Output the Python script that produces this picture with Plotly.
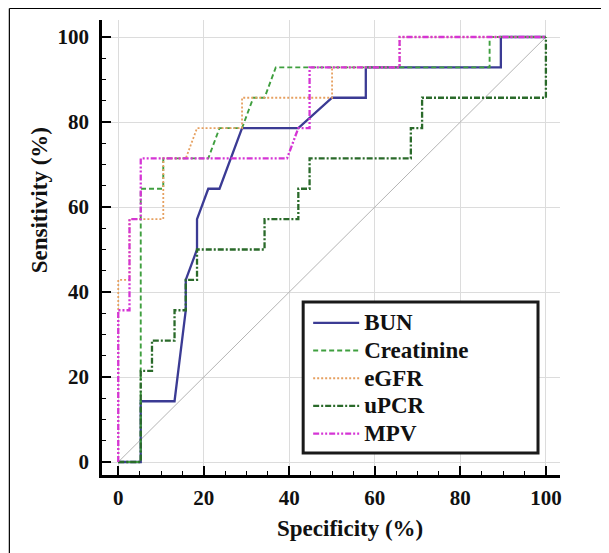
import plotly.graph_objects as go

# ---- data (x = 100 - specificity, y = sensitivity) ----
bun_x = [0, 5.26, 5.26, 13.16, 15.79, 15.79, 18.42, 18.42, 21.05, 23.68, 28.95, 42.11, 50.0, 57.89, 57.89, 89.47, 89.47, 100]
bun_y = [0, 0, 14.29, 14.29, 35.71, 42.86, 50.0, 57.14, 64.29, 64.29, 78.57, 78.57, 85.71, 85.71, 92.86, 92.86, 100, 100]

creat_x = [0, 5.26, 5.26, 10.53, 10.53, 21.05, 23.68, 28.95, 31.58, 34.21, 36.84, 86.84, 86.84, 100]
creat_y = [0, 0, 64.29, 64.29, 71.43, 71.43, 78.57, 78.57, 85.71, 85.71, 92.86, 92.86, 100, 100]

egfr_x = [0, 0, 2.63, 2.63, 10.53, 10.53, 15.79, 18.42, 28.95, 28.95, 50.0, 50.0, 65.79, 65.79, 100]
egfr_y = [0, 42.86, 42.86, 57.14, 57.14, 71.43, 71.43, 78.57, 78.57, 85.71, 85.71, 92.86, 92.86, 100, 100]

upcr_x = [0, 5.26, 5.26, 7.89, 7.89, 13.16, 13.16, 15.79, 15.79, 18.42, 18.42, 34.21, 34.21, 42.11, 42.11, 44.74, 44.74, 68.42, 68.42, 71.05, 71.05, 100, 100]
upcr_y = [0, 0, 21.43, 21.43, 28.57, 28.57, 35.71, 35.71, 42.86, 42.86, 50.0, 50.0, 57.14, 57.14, 64.29, 64.29, 71.43, 71.43, 78.57, 78.57, 85.71, 85.71, 100]

mpv_x = [0, 0, 2.63, 2.63, 5.26, 5.26, 39.47, 42.11, 44.74, 44.74, 65.79, 65.79, 100]
mpv_y = [0, 35.71, 35.71, 57.14, 57.14, 71.43, 71.43, 78.57, 78.57, 92.86, 92.86, 100, 100]

ref_x = [0, 100]
ref_y = [0, 100]

tick_vals = [0, 20, 40, 60, 80, 100]
tick_text = ["0", "20", "40", "60", "80", "100"]

series_names = ["BUN", "Creatinine", "eGFR", "uPCR", "MPV"]

FONT = "Liberation Serif"
LEG_SPAN = "<span style='font-size:23px'>{}</span>"

fig = go.Figure()
fig.add_trace(go.Scatter(x=ref_x, y=ref_y, mode="lines", showlegend=False,
                         line=dict(color="#b4b4b4", width=1), hoverinfo="skip"))
styles = [
    dict(color="#3b3b94", width=2.3),
    dict(color="#3f9f3f", width=1.9, dash="5px,3px"),
    dict(color="#e6a060", width=1.8, dash="2px,2px"),
    dict(color="#2a6a2a", width=2.3, dash="6px,2px,2px,2px"),
    dict(color="#d535d5", width=2.3, dash="6px,2px,2px,2px,2px,2px"),
]
for name, xs, ys, st in zip(series_names,
                            [bun_x, creat_x, egfr_x, upcr_x, mpv_x],
                            [bun_y, creat_y, egfr_y, upcr_y, mpv_y],
                            styles):
    fig.add_trace(go.Scatter(x=xs, y=ys, mode="lines", name=LEG_SPAN.format(name), line=st))

axis_common = dict(
    tickvals=tick_vals, ticktext=tick_text,
    showgrid=True, gridcolor="#dcdcdc", gridwidth=1, zeroline=False,
    showline=True, linecolor="black", linewidth=2.5,
    ticks="inside", ticklen=9, tickwidth=2, tickcolor="black",
    minor=dict(dtick=5, ticks="inside", ticklen=4, tickwidth=1, tickcolor="black", showgrid=False),
    tickfont=dict(family=FONT, size=21, color="#111111", weight="bold"),
)

W, H = 601, 545
L, R, T, B = 93.7, 49, 12, 78
pw, ph = W - L - R, H - T - B


def px(xf):
    return (xf - L) / pw


def py(yf):
    return (H - B - yf) / ph


fig.update_layout(
    width=W, height=H,
    margin=dict(l=L, r=R, t=T, b=B, pad=0),
    paper_bgcolor="white", plot_bgcolor="white",
    font=dict(family=FONT, color="#111111"),
    xaxis=dict(range=[-3.8, 103.3], ticklabelstandoff=2, **axis_common),
    yaxis=dict(range=[-3.06, 104], ticklabelstandoff=6, **axis_common),
    legend=dict(
        x=px(300), y=py(296), xanchor="left", yanchor="top",
        borderwidth=0, bgcolor="rgba(0,0,0,0)",
        font=dict(family=FONT, size=19, color="#111111", weight="bold"),
        itemwidth=46, tracegroupgap=0,
    ),
    showlegend=True,
    shapes=[
        dict(type="line", xref="paper", yref="paper", x0=px(1), x1=px(W), y0=py(0.5), y1=py(0.5),
             line=dict(color="black", width=1.2)),
        dict(type="line", xref="paper", yref="paper", x0=px(1), x1=px(1), y0=py(0.5), y1=py(H),
             line=dict(color="black", width=1.2)),
        dict(type="rect", xref="paper", yref="paper", x0=px(295), x1=px(530), y0=py(445), y1=py(294),
             line=dict(color="#1a1a1a", width=3), fillcolor="white", layer="above"),
    ],
    annotations=[
        dict(text="<b>Specificity (%)</b>", xref="paper", yref="paper", x=px(341.5), y=py(520),
             xanchor="center", yanchor="middle", showarrow=False,
             font=dict(family=FONT, size=23, color="#111111")),
        dict(text="<b>Sensitivity (%)</b>", xref="paper", yref="paper", x=px(31), y=py(192),
             xanchor="center", yanchor="middle", showarrow=False, textangle=-90,
             font=dict(family=FONT, size=23, color="#111111")),
    ],
)

fig.write_html("out.html")
